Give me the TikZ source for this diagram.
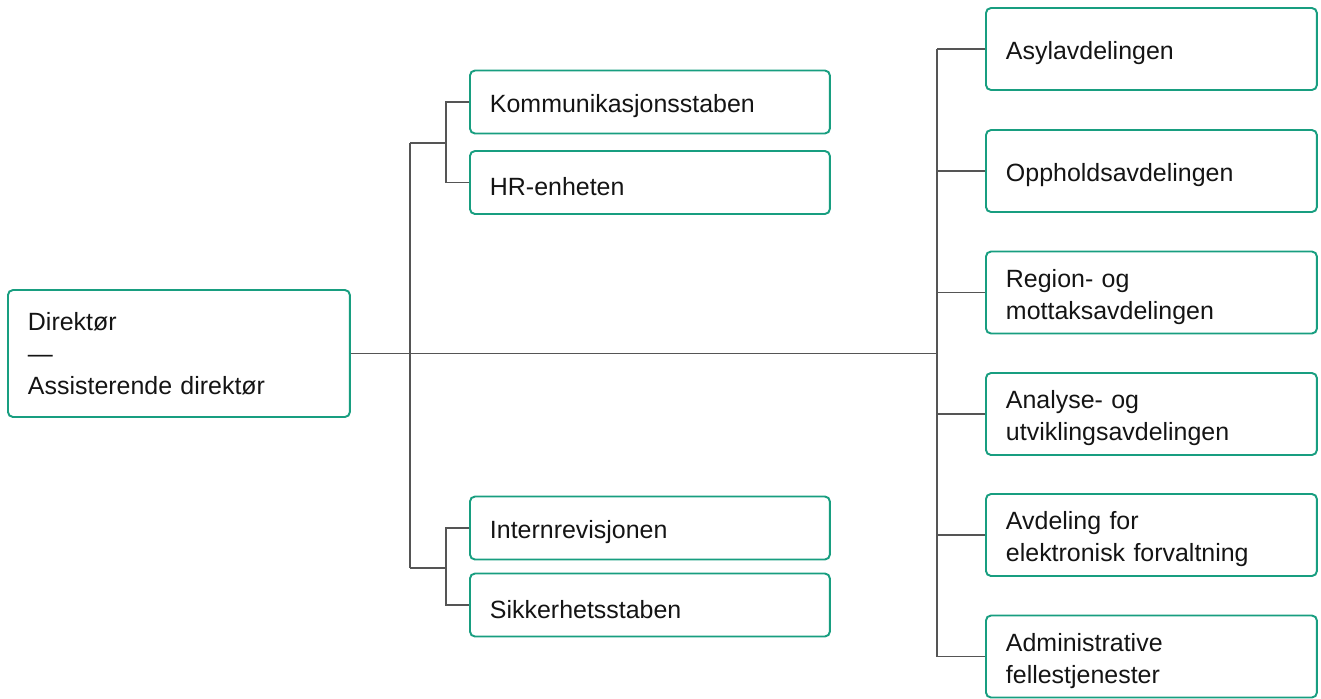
\documentclass[tikz,border=0pt]{standalone}
\usepackage{fontspec}
\setmainfont{Liberation Sans}
\usepackage{xcolor}
\definecolor{boxteal}{RGB}{24,158,128}
\definecolor{linegray}{RGB}{85,85,85}
\definecolor{textblack}{RGB}{20,20,20}

\tikzset{
  unit/.style={draw=boxteal, line width=1.1pt, rounded corners=0.1cm, anchor=west,
    inner xsep=0.4cm, inner ysep=0pt, align=left, text=textblack,
    font=\fontsize{14.2}{18.2}\selectfont},
  lowered/.style={execute at begin node={\rule{0pt}{15pt}}},
  staff/.style={unit, lowered, text width=6.4cm, minimum height=1.26cm},
  dept/.style={unit, lowered, text width=5.82cm, minimum height=1.64cm},
  conn/.style={draw=linegray, line width=0.7pt},
}

\begin{document}
\begin{tikzpicture}[x=0.02cm, y=-0.02cm]
        \useasboundingbox (0, 0) rectangle (1321, 698);

        % Top
        \node[unit, text width=6.04cm, minimum height=2.54cm] (dir) at (7, 353.5)
            {Direktør\\—\\Assisterende direktør};

        % Staff units
        \node[staff] (komm) at (469, 102) {Kommunikasjonsstaben};
        \node[staff] (hr) at (469, 182.5) {HR-enheten};
        \node[staff] (intern) at (469, 528) {Internrevisjonen};
        \node[staff] (sikk) at (469, 605) {Sikkerhetsstaben};

        % Departments
        \node[dept] (asyl) at (985, 49) {Asylavdelingen};
        \node[dept] (opph) at (985, 171) {Oppholdsavdelingen};
        \node[dept] (region) at (985, 292.5) {Region- og\\mottaksavdelingen};
        \node[dept] (analyse) at (985, 414) {Analyse- og\\utviklingsavdelingen};
        \node[dept] (elforv) at (985, 535) {Avdeling for\\elektronisk forvaltning};
        \node[dept] (adm) at (985, 656.5) {Administrative\\fellestjenester};

        % Branch points
        \coordinate (jr) at (937, 353.5);
        \coordinate (ua) at (410, 143);
        \coordinate (ub) at (446, 143);
        \coordinate (la) at (410, 568);
        \coordinate (lb) at (446, 568);

        % Connectors
        \draw[conn] (dir.east) -- (jr);
        \draw[conn] (ua) -- (la);
        \draw[conn] (ua) -- (ub);
        \draw[conn] (la) -- (lb);
        \draw[conn] (komm.west) -| (ub);
        \draw[conn] (hr.west) -| (ub);
        \draw[conn] (intern.west) -| (lb);
        \draw[conn] (sikk.west) -| (lb);
        \draw[conn] (jr |- asyl.west) -- (jr |- adm.west);
        \foreach \d in {asyl, opph, region, analyse, elforv, adm}
            \draw[conn] (\d.west) -- (\d.west -| jr);

    \end{tikzpicture}
\end{document}
